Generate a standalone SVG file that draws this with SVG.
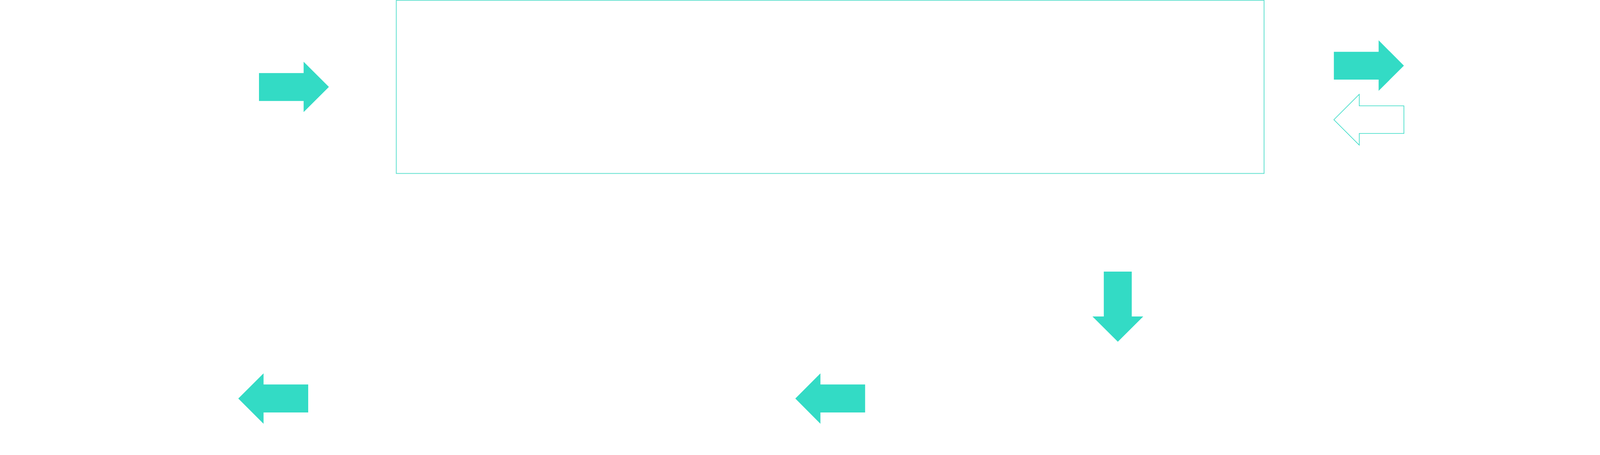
<svg xmlns="http://www.w3.org/2000/svg" width="4268" height="1166" viewBox="0 0 4268 1166">
<style>
.arrow{fill:#33dbc5;stroke:none}
.arrow-outline{fill:#ffffff;stroke:#33dbc5;stroke-width:1.6}
.box{fill:#ffffff;stroke:#5fe0cf;stroke-width:2}
</style>
<rect width="4268" height="1166" fill="#ffffff"/>
<g id="node-main">
<rect class="box" x="1014.5" y="0.8" width="2221.5" height="443.7"/>
</g>
<g id="connectors">
<polygon id="arrow-in" class="arrow" points="663,187.3 777.3,187.3 777.3,158.3 842,222.7 777.3,287.3 777.3,258.7 663,258.7"/>
<polygon id="arrow-out" class="arrow" points="3414.7,132.7 3529.3,132.7 3529.3,103.3 3594,168.3 3529.3,232.7 3529.3,204 3414.7,204"/>
<polygon id="arrow-back" class="arrow-outline" points="3414.7,306.7 3479.7,241.7 3479.7,271.3 3594,271.3 3594,342 3479.7,342 3479.7,371.7"/>
<polygon id="arrow-down" class="arrow" points="2825.7,696 2897.3,696 2897.3,811 2926.7,811 2861.7,875.7 2796.7,811 2825.7,811"/>
<polygon id="arrow-left-1" class="arrow" points="610,1021.3 674.7,956.7 674.7,985.3 789,985.3 789,1057 674.7,1057 674.7,1086"/>
<polygon id="arrow-left-2" class="arrow" points="2036,1021.3 2100.3,956.7 2100.3,985.3 2214.7,985.3 2214.7,1057 2100.3,1057 2100.3,1086"/>
</g>
</svg>
